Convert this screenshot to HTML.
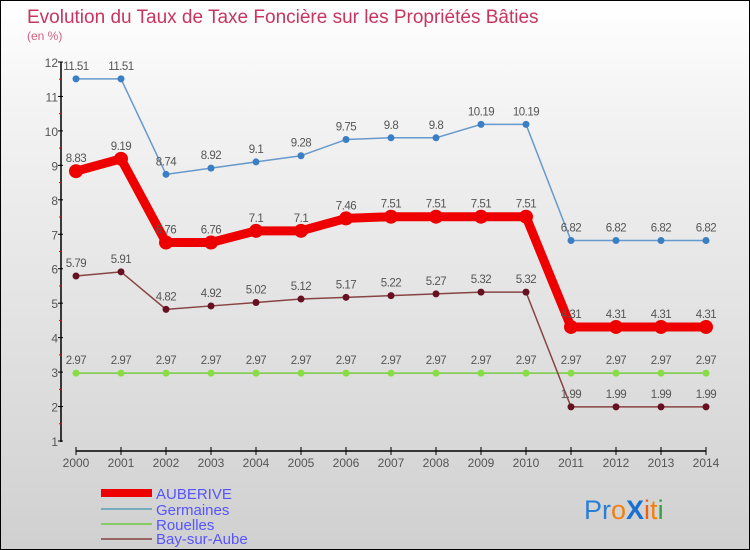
<!DOCTYPE html>
<html><head><meta charset="utf-8"><style>
body{margin:0}
#c{width:748px;height:548px;border:1px solid #000;background:linear-gradient(#fff,#f3f3f3 20%,#d0d0d0);position:relative;overflow:hidden;font-family:"Liberation Sans",sans-serif}
</style></head><body>
<div id="c">
<svg id="s" width="748" height="548" style="position:absolute;left:0;top:0">
<text x="26" y="22" font-size="19" fill="#c8355f">Evolution du Taux de Taxe Foncière sur les Propriétés Bâties</text>
<text x="26" y="39" font-size="12" fill="#d06080">(en %)</text>
<g id="axes"></g><g id="series"></g>
<g>
<rect x="100" y="488" width="51" height="8" fill="#e00"/>
<text x="155" y="498" font-size="15" fill="#5555ff">AUBERIVE</text>
<rect x="100" y="507" width="51" height="2" fill="#7ab"/>
<text x="155" y="514" font-size="15" fill="#5555ff">Germaines</text>
<rect x="100" y="522" width="51" height="2" fill="#8c6"/>
<text x="155" y="529" font-size="15" fill="#5555ff">Rouelles</text>
<rect x="100" y="537" width="51" height="2" fill="#966"/>
<text x="155" y="543" font-size="15" fill="#5555ff">Bay-sur-Aube</text>
</g>
<text x="583" y="518" font-size="27"><tspan fill="#2a7fd4">Pr</tspan><tspan fill="#f08010">o</tspan><tspan fill="#1a70d0" font-weight="bold">X</tspan><tspan fill="#f06010">i</tspan><tspan fill="#f08010">t</tspan><tspan fill="#30a040">i</tspan></text>
</svg>
</div>
<script>
const years=[2000,2001,2002,2003,2004,2005,2006,2007,2008,2009,2010,2011,2012,2013,2014];
const auberive=[8.83,9.19,6.76,6.76,7.1,7.1,7.46,7.51,7.51,7.51,7.51,4.31,4.31,4.31,4.31];
const germaines=[11.51,11.51,8.74,8.92,9.1,9.28,9.75,9.8,9.8,10.19,10.19,6.82,6.82,6.82,6.82];
const rouelles=[2.97,2.97,2.97,2.97,2.97,2.97,2.97,2.97,2.97,2.97,2.97,2.97,2.97,2.97,2.97];
const bay=[5.79,5.91,4.82,4.92,5.02,5.12,5.17,5.22,5.27,5.32,5.32,1.99,1.99,1.99,1.99];
const yTicks=[1,2,3,4,5,6,7,8,9,10,11,12];
const NS="http://www.w3.org/2000/svg";
const xs=i=>75+i*45;
const ys=v=>440-(v-1)*(379/11);
function mk(tag,at,parent){const e=document.createElementNS(NS,tag);for(const k in at)e.setAttribute(k,at[k]);parent.appendChild(e);return e;}
const ax=document.getElementById('axes');
let l=mk('line',{x1:60,y1:ys(12),x2:60,y2:441,stroke:'#000','stroke-width':1.5},ax);


l=mk('line',{x1:75,y1:450,x2:705,y2:450,stroke:'#000','stroke-width':1.5},ax);


yTicks.forEach(v=>{
 mk('line',{x1:57,y1:ys(v),x2:62,y2:ys(v),stroke:'#000'},ax);
 if(v<12)mk('line',{x1:58,y1:ys(v+0.5),x2:61,y2:ys(v+0.5),stroke:'#e00'},ax);
 const t=mk('text',{x:57,y:ys(v)+5,'font-size':12,fill:'#555','text-anchor':'end'},ax);t.textContent=v;
 
 
});
years.forEach((y,i)=>{
 mk('line',{x1:xs(i),y1:446,x2:xs(i),y2:454,stroke:'#000'},ax);
 const t=mk('text',{x:xs(i),y:466,'font-size':12,fill:'#555','text-anchor':'middle'},ax);t.textContent=y;
 
 
});
const sg=document.getElementById('series');
function series(data,name,color,w,r,dot){
 const g=mk('g',{},sg);
 
 
 mk('polyline',{points:data.map((v,i)=>xs(i)+','+ys(v)).join(' '),fill:'none',stroke:color,'stroke-width':w,'stroke-linejoin':'round'},g);
 data.forEach((v,i)=>{
  const c=mk('circle',{cx:xs(i),cy:ys(v),r:r,fill:dot},g);
  
  
  const t=mk('text',{x:xs(i),y:ys(v)-9,'font-size':11.5,fill:'#555','text-anchor':'middle','letter-spacing':'-0.5'},g);
  t.textContent=String(v);
  
  
 });
}
series(rouelles,'rouelles','#7c4',1.5,3.5,'#8d4');
series(bay,'bay-sur-aube','#844',1.5,3.5,'#612');
series(germaines,'germaines','#69c',1.5,3.5,'#3a7ec4');
series(auberive,'auberive','#e00',9,7,'#e00');
</script>
</body></html>
